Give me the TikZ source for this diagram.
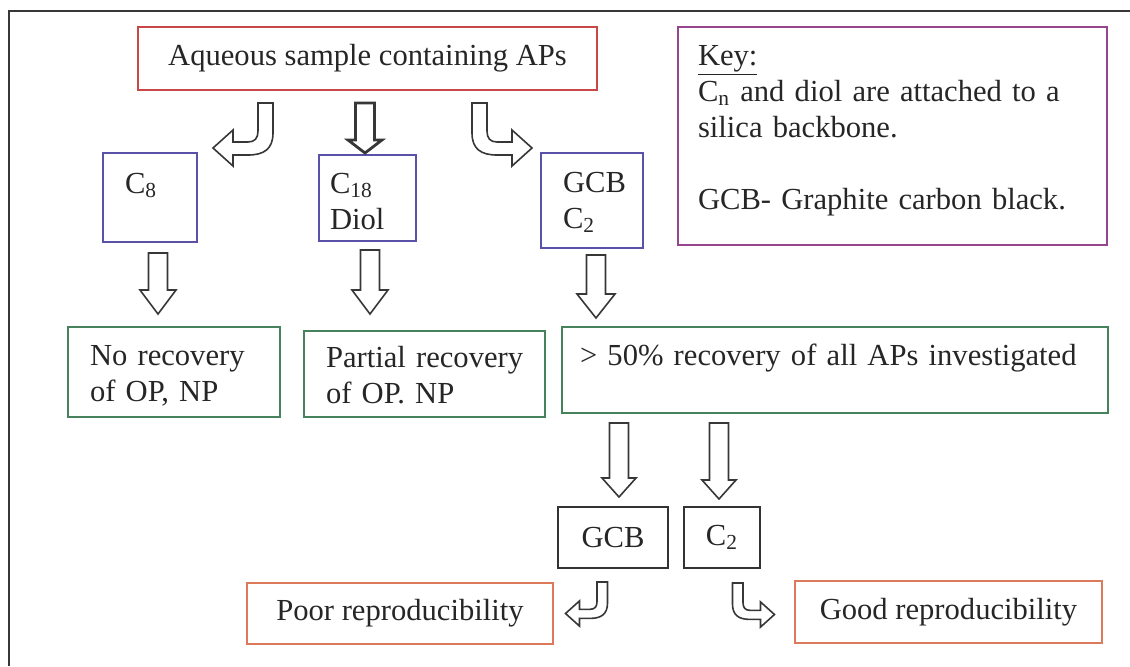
\documentclass[tikz,border=0pt]{standalone}
\usepackage{fontspec}
\setmainfont{Liberation Serif}
\usepackage{tikz}

\definecolor{apred}{RGB}{200,72,72}
\definecolor{keypurple}{RGB}{150,70,140}
\definecolor{phaseblue}{RGB}{90,82,168}
\definecolor{recgreen}{RGB}{70,130,92}
\definecolor{reprored}{RGB}{222,122,92}
\definecolor{arrowgray}{RGB}{55,55,55}

\begin{document}
\begin{tikzpicture}[x=0.5pt,y=-0.5pt,
    box/.style={draw,inner sep=0pt,outer sep=0pt,anchor=north west,line width=0.75pt,
                text=black!85,font=\fontsize{15.3}{18}\selectfont},
    mid box/.style={box,align=center},
    text box/.style={box,align=left},
    block arrow/.style={draw=arrowgray,fill=white,line width=0.8pt,line join=miter},
    pics/bend arrow/.style={code={
      \draw[block arrow] (0,0) -- (15,0) -- (15,30) .. controls (15,46) and (6,52) .. (-10,52)
        -- (-25,52) -- (-25,63) -- (-45,45) -- (-25,27) -- (-25,39) -- (-10,39)
        .. controls (-3,39) and (0,35) .. (0,28) -- cycle;
    }},
    pics/down arrow/.style n args={3}{code={
      \draw[block arrow] (-9.5,0) -- (9.5,0) -- (9.5,#1-#2) -- (#3,#1-#2) -- (0,#1)
        -- (-#3,#1-#2) -- (-9.5,#1-#2) -- cycle;
    }}]
  \useasboundingbox (0,0) rectangle (1130,666);

  % frame round the whole scheme
  \draw[arrowgray,line width=1pt] (9,666) -- (9,11) -- (1130,11);

  % sample and key
  \node[mid box,draw=apred,minimum width=229.5pt,minimum height=31.5pt] (sample) at (138,27)
    {Aqueous sample containing APs};
  \node[text box,draw=keypurple,inner xsep=10pt,text width=194.5pt,text height=19pt,text depth=90pt] (key) at (678,27)
    {\underline{Key:}\\ C\textsubscript{n} and diol are attached to a\\ silica backbone.\\[18pt] GCB- Graphite carbon black.};

  % sorbents
  \node[text box,draw=phaseblue,inner xsep=11pt,text width=25pt,text height=20pt,text depth=24.5pt] (c8) at (103,153)
    {C\textsubscript{8}};
  \node[text box,draw=phaseblue,inner xsep=5.5pt,text width=37.5pt,text height=19pt,text depth=24pt] (c18) at (319,155)
    {C\textsubscript{18}\\ Diol};
  \node[text box,draw=phaseblue,inner xsep=11pt,text width=29pt,text height=19.5pt,text depth=28pt] (gcbc2) at (541,153)
    {GCB\\ C\textsubscript{2}};

  % recoveries
  \node[text box,draw=recgreen,inner xsep=11pt,text width=84pt,text height=19pt,text depth=26pt] (norec) at (68,327)
    {No recovery\\ of OP, NP};
  \node[text box,draw=recgreen,inner xsep=11pt,text width=98.5pt,text height=18pt,text depth=25pt] (partrec) at (304,331)
    {\mbox{Partial recovery}\\ of OP. NP};
  \node[text box,draw=recgreen,inner xsep=9pt,text width=255pt,text height=19pt,text depth=24pt] (fullrec) at (562,327)
    {> 50\% recovery of all APs investigated};

  % split of the good sorbents
  \node[mid box,draw=black!80,minimum width=55pt,minimum height=30.5pt] (gcb) at (558,507) {GCB};
  \node[mid box,draw=black!80,minimum width=38pt,minimum height=30.5pt] (c2) at (684,507) {C\textsubscript{2}};
  \node[mid box,draw=reprored,minimum width=153pt,minimum height=30.5pt] (poor) at (247,583) {Poor reproducibility};
  \node[mid box,draw=reprored,minimum width=153.5pt,minimum height=31pt] (good) at (795,581) {Good reproducibility};

  % block arrows
  \pic at (258,103) {bend arrow};
  \pic[block arrow/.append style={line width=1.4pt}] at (365,103) {down arrow={50}{13}{17}};
  \pic[xscale=-1] at (487,103) {bend arrow};

  \pic at (158,253) {down arrow={61}{24}{18}};
  \pic at (370,250) {down arrow={64}{24}{18}};
  \pic at (596,255) {down arrow={63}{24}{19}};

  \pic at (619,423) {down arrow={74}{19}{17}};
  \pic at (719,423) {down arrow={76}{19}{17}};

  \pic[scale=0.7] at (597,582) {bend arrow};
  \pic[xscale=-0.7,yscale=0.7] at (743,583) {bend arrow};
\end{tikzpicture}
\end{document}
